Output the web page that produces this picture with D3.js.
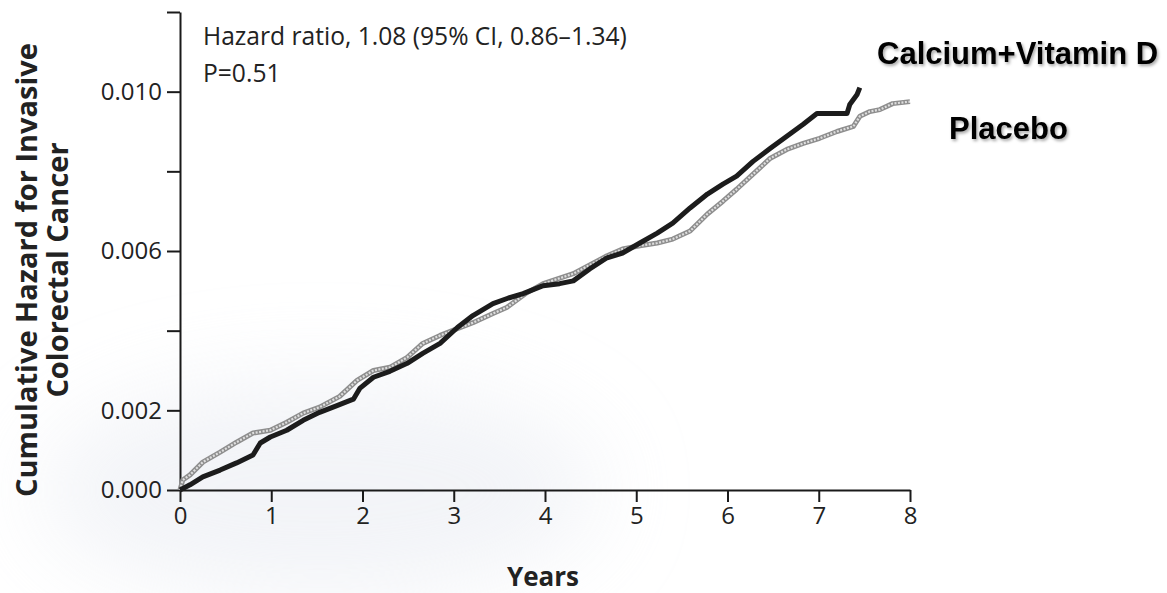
<!DOCTYPE html>
<html>
<head>
<meta charset="utf-8">
<script src="https://cdn.jsdelivr.net/npm/d3@7"></script>
<style>
  html, body { margin: 0; padding: 0; background: #ffffff; }
  svg { display: block; }
  .axis path, .axis line { stroke: #1a1a1a; stroke-width: 2px; }
  .axis text { font-family: "Open Sans", Lato, sans-serif; font-size: 24px; fill: #222; }
</style>
</head>
<body>
<svg id="chart" width="1167" height="593"></svg>
<script>
// Cumulative hazard, invasive colorectal cancer, by years of follow-up
const calciumYears  = [0.00, 0.11, 0.25, 0.44, 0.62, 0.80, 0.88, 0.99, 1.17, 1.35, 1.53, 1.72, 1.90, 1.97, 2.12, 2.30, 2.49, 2.66, 2.85, 3.04, 3.21, 3.43, 3.60, 3.76, 3.98, 4.16, 4.31, 4.49, 4.68, 4.85, 5.04, 5.23, 5.40, 5.59, 5.78, 5.95, 6.10, 6.28, 6.47, 6.65, 6.83, 6.98, 7.31, 7.34, 7.42, 7.45];
const calciumHazard = [0, 0.00013, 0.00033, 0.0005, 0.00068, 0.00088, 0.00118, 0.00133, 0.0015, 0.00175, 0.00195, 0.00212, 0.00228, 0.00255, 0.00283, 0.00298, 0.00318, 0.00343, 0.00368, 0.00408, 0.00438, 0.00468, 0.00482, 0.00493, 0.00513, 0.00518, 0.00525, 0.00555, 0.00583, 0.00595, 0.0062, 0.00645, 0.0067, 0.00708, 0.00743, 0.00768, 0.00788, 0.00825, 0.00858, 0.00888, 0.00918, 0.00945, 0.00945, 0.00968, 0.00993, 0.0101];

const placeboYears  = [0.00, 0.03, 0.11, 0.25, 0.44, 0.62, 0.80, 0.99, 1.17, 1.35, 1.53, 1.75, 1.94, 2.12, 2.30, 2.49, 2.66, 2.85, 3.04, 3.21, 3.43, 3.58, 3.80, 3.98, 4.31, 4.68, 4.85, 5.04, 5.23, 5.40, 5.59, 5.78, 5.95, 6.10, 6.28, 6.47, 6.65, 6.83, 7.01, 7.20, 7.38, 7.45, 7.56, 7.67, 7.81, 8.00];
const placeboHazard = [0, 0.00025, 0.00038, 0.0007, 0.00095, 0.0012, 0.00143, 0.0015, 0.0017, 0.00193, 0.00208, 0.00235, 0.00275, 0.003, 0.00308, 0.00333, 0.00368, 0.00388, 0.00405, 0.0042, 0.00443, 0.00458, 0.00495, 0.00518, 0.00543, 0.00588, 0.00605, 0.00613, 0.0062, 0.0063, 0.0065, 0.00693, 0.00725, 0.00755, 0.00793, 0.00833, 0.00855, 0.0087, 0.00883, 0.009, 0.00913, 0.00938, 0.0095, 0.00955, 0.0097, 0.00975];

const seriesNames = ["Calcium+Vitamin D", "Placebo"];
const xTicks = [0, 1, 2, 3, 4, 5, 6, 7, 8];
const yTicks = [0, 0.002, 0.004, 0.006, 0.008, 0.010, 0.012];
const yLabelled = [0, 0.002, 0.006, 0.010];
const statLines = ["Hazard ratio, 1.08 (95% CI, 0.86\u20131.34)", "P=0.51"];
const yTitleLines = ["Cumulative Hazard for Invasive", "Colorectal Cancer"];
const xTitle = "Years";

const svg = d3.select("#chart");
const defs = svg.append("defs");

// faint paper tint in the lower-left
const tint = defs.append("filter").attr("id", "tint-blur")
  .attr("x", "-50%").attr("y", "-50%").attr("width", "200%").attr("height", "200%");
tint.append("feGaussianBlur").attr("stdDeviation", 45);
svg.append("ellipse")
  .attr("cx", 320).attr("cy", 490).attr("rx", 280).attr("ry", 110)
  .attr("fill", "#e8ebf2").attr("opacity", 0.55)
  .attr("filter", "url(#tint-blur)");

const x = d3.scaleLinear().domain([0, 8]).range([180, 910]);
const y = d3.scaleLinear().domain([0, 0.012]).range([490, 12]);

// x axis
svg.append("g")
  .attr("class", "axis")
  .attr("transform", `translate(0,${y(0)})`)
  .call(d3.axisBottom(x).tickValues(xTicks).tickFormat(d3.format("d"))
    .tickSize(12).tickSizeOuter(0).tickPadding(5));

// y axis: every 0.002 ticked, only some labelled
const fmt = d3.format(".3f");
svg.append("g")
  .attr("class", "axis")
  .attr("transform", `translate(${x(0)},0)`)
  .call(d3.axisLeft(y).tickValues(yTicks)
    .tickFormat(d => yLabelled.some(v => Math.abs(v - d) < 1e-9) ? fmt(d) : "")
    .tickSize(13).tickSizeOuter(0).tickPadding(5));

// cumulative hazard traces
const line = d3.line()
  .x(d => x(d[0]))
  .y(d => y(d[1]));

const placebo = d3.zip(placeboYears, placeboHazard);
const calcium = d3.zip(calciumYears, calciumHazard);

svg.append("path")
  .datum(placebo)
  .attr("d", line)
  .attr("fill", "none")
  .attr("stroke", "#8e8e8e")
  .attr("stroke-width", 5)
  .attr("stroke-linejoin", "round");
svg.append("path")
  .datum(placebo)
  .attr("d", line)
  .attr("fill", "none")
  .attr("stroke", "#dedede")
  .attr("stroke-width", 2.2)
  .attr("stroke-dasharray", "2,1.5");

svg.append("path")
  .datum(calcium)
  .attr("d", line)
  .attr("fill", "none")
  .attr("stroke", "#1c1c1c")
  .attr("stroke-width", 5)
  .attr("stroke-linejoin", "round");

// statistics annotation
svg.selectAll("text.stat")
  .data(statLines)
  .join("text")
  .attr("class", "stat")
  .attr("x", 203)
  .attr("y", (d, i) => 45 + i * 37)
  .style("font-family", "'Open Sans', Lato, sans-serif")
  .style("font-size", "24.6px")
  .style("fill", "#222")
  .text(d => d);

// axis titles
svg.append("g")
  .attr("transform", "translate(0,270) rotate(-90)")
  .selectAll("text")
  .data(yTitleLines)
  .join("text")
  .attr("x", 0)
  .attr("y", (d, i) => 37 + i * 31)
  .attr("text-anchor", "middle")
  .style("font-family", "'Open Sans', Lato, sans-serif")
  .style("font-weight", "bold")
  .style("font-size", "29px")
  .style("fill", "#222")
  .text(d => d);

svg.append("text")
  .attr("x", 543)
  .attr("y", 586)
  .attr("text-anchor", "middle")
  .style("font-family", "'Open Sans', Lato, sans-serif")
  .style("font-weight", "bold")
  .style("font-size", "26px")
  .style("fill", "#222")
  .text(xTitle);

// series labels
const shadow = defs.append("filter").attr("id", "soft-shadow")
  .attr("x", "-10%").attr("y", "-30%").attr("width", "120%").attr("height", "160%");
shadow.append("feDropShadow")
  .attr("dx", 1.5).attr("dy", 2).attr("stdDeviation", 1.5)
  .attr("flood-color", "#000").attr("flood-opacity", 0.35);

svg.selectAll("text.series")
  .data(seriesNames)
  .join("text")
  .attr("class", "series")
  .attr("x", (d, i) => i === 0 ? 877 : 949)
  .attr("y", (d, i) => i === 0 ? 64 : 139)
  .attr("filter", "url(#soft-shadow)")
  .style("font-family", "'Liberation Sans', Arial, sans-serif")
  .style("font-weight", "bold")
  .style("font-size", "31px")
  .style("fill", "#000")
  .text(d => d);
</script>
</body>
</html>
